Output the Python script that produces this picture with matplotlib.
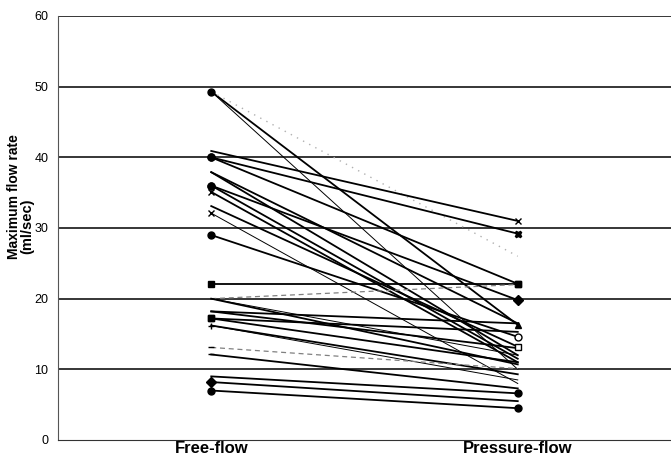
import matplotlib.pyplot as plt

plt.rcParams["font.family"] = ["Liberation Sans", "DejaVu Sans"]

conditions = ["Free-flow", "Pressure-flow"]

# maximum flow rate per subject (ml/sec)
free_flow = [49.3, 49.3, 49.3, 40.9, 40.0, 40.0, 37.9, 37.9, 36.0, 36.0,
             35.1, 33.1, 32.1, 29.0, 22.1, 20.0, 20.0, 20.0, 18.2, 18.2,
             17.2, 17.2, 16.2, 16.2, 13.1, 12.1, 9.0, 8.2, 7.0]
pressure_flow = [16.3, 10.0, 26.0, 31.0, 29.2, 22.1, 16.5, 12.0, 19.8, 11.5,
                 11.0, 13.2, 8.0, 14.6, 22.1, 22.0, 10.7, 12.0, 16.5, 13.0,
                 15.3, 11.0, 9.3, 8.5, 10.1, 7.3, 6.6, 5.5, 4.5]
left_marker = ["o", "", "", "", "o", "o", "", "", "o", "o",
               "x", "", "x", "o", "s", "", "", "", "", "",
               "s", "s", "+", "", "_", "_", "", "D", "o"]
right_marker = ["^", "", "", "x", "X", "s", "", "", "D", "",
                "", "s", "", "o", "s", "", "", "", "", "",
                "", "", "", "", "", "", "o", "", "o"]
line_kind = ["thick", "thin", "dotted", "thick", "thick", "thick", "thick", "thick", "thick", "thick",
             "thick", "thick", "thin", "thick", "thick", "dashed", "thick", "thin", "thick", "thick",
             "thick", "thick", "thick", "thin", "dashed", "thick", "thick", "thick", "thick"]

fig = plt.figure(figsize=(6.71, 4.57), dpi=100)
ax = fig.add_axes([58 / 671, 1 - 440 / 457, 1 - 58 / 671, 424 / 457])

for y in range(10, 61, 10):
    ax.axhline(y, color="black", lw=1.1, zorder=1)

styles = {
    "thick": dict(color="black", lw=1.3, ls="-"),
    "thin": dict(color="black", lw=0.7, ls="-"),
    "dotted": dict(color="#b0b0b0", lw=1.0, ls=(0, (1, 4))),
    "dashed": dict(color="#808080", lw=0.9, ls=(0, (4, 3))),
}

for a, b, ml, mr, kind in zip(free_flow, pressure_flow, left_marker, right_marker, line_kind):
    ax.plot([0, 1], [a, b], zorder=2, **styles[kind])
    if ml:
        ax.plot(0, a, marker=ml, color="black", ms=5, mew=1, zorder=3)
    if mr:
        face = "white" if mr in ("o", "s") and b in (15.3, 13.2, 14.6) else "black"
        ax.plot(1, b, marker=mr, color="black", mfc=face, ms=5, mew=1, zorder=3)

ax.set_xlim(-0.5, 1.5)
ax.set_ylim(0, 60)
ax.set_yticks(range(0, 61, 10))
ax.set_xticks([0, 1])
ax.set_xticklabels(conditions, fontweight="bold")
ax.tick_params(axis="both", length=0)
ax.tick_params(axis="x", pad=0.5, labelsize=12)
ax.tick_params(axis="y", pad=7, labelsize=9)

for side in ("top", "right"):
    ax.spines[side].set_visible(False)
ax.spines["left"].set_color("#555555")
ax.spines["bottom"].set_color("#333333")

# two-line axis title, second line shifted down a little
fig.text(14 / 671, 1 - 197 / 457, "Maximum flow rate", rotation=90, ha="center", va="center",
         fontsize=10, fontweight="bold")
fig.text(27 / 671, 1 - 226 / 457, "(ml/sec)", rotation=90, ha="center", va="center",
         fontsize=10.5, fontweight="bold")

fig.savefig("out.png", dpi=100)
